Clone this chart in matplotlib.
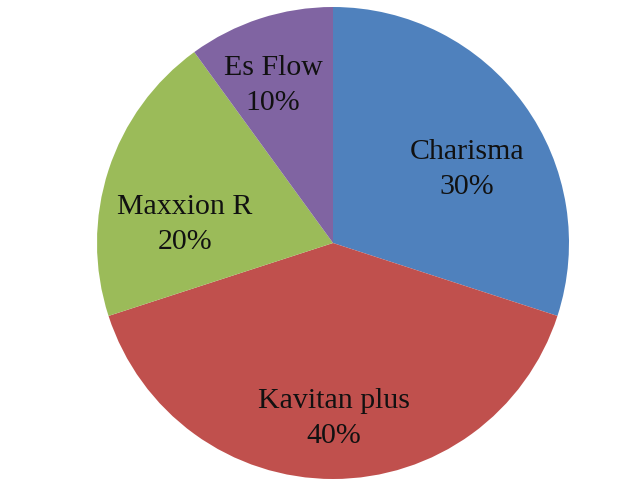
import matplotlib
matplotlib.use("Agg")
import matplotlib.pyplot as plt

# data
labels = ["Charisma", "Kavitan plus", "Maxxion R", "Es Flow"]
values = [30, 40, 20, 10]
colors = ["#4F81BD", "#C0504D", "#9BBB59", "#8064A2"]

# label anchors inside the unit pie (layout only)
label_pos = [(0.568, 0.313), (0.004, -0.742), (-0.627, 0.080), (-0.254, 0.667)]

plt.rcParams["font.family"] = ["Liberation Serif", "DejaVu Serif"]

fig = plt.figure(figsize=(6.41, 4.88), dpi=100)
cx, cy, r = 333, 243, 236
ax = fig.add_axes([(cx - r) / 641, (488 - cy - r) / 488, 2 * r / 641, 2 * r / 488])

wedges, _ = ax.pie(values, colors=colors, startangle=90, counterclock=False,
                   radius=1, wedgeprops=dict(linewidth=0))

total = sum(values)
for lab, v, (x, y) in zip(labels, values, label_pos):
    ax.text(x, y, f"{lab}\n{round(100 * v / total)}%",
            ha="center", va="center", fontsize=21.5, color="#111111", linespacing=1.45)

ax.set_xlim(-1, 1)
ax.set_ylim(-1, 1)
ax.set_aspect("equal")
ax.axis("off")

fig.savefig("out.png", dpi=100)
